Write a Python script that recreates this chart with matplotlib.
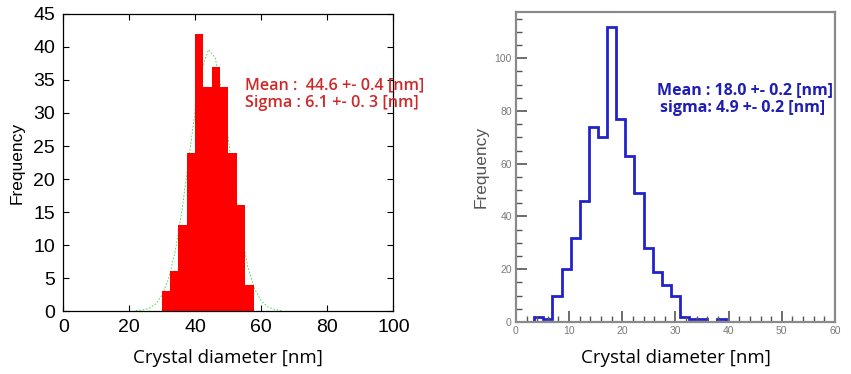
import numpy as np
import matplotlib
matplotlib.use("Agg")
import matplotlib.pyplot as plt
from matplotlib.ticker import MultipleLocator

# left histogram (red, filled)
left_edges = [29.8, 32.3, 34.8, 37.4, 39.9, 42.4, 45.0, 47.5, 50.0, 52.6, 55.1, 57.7]
left_counts = [3, 6, 13, 24, 42, 34, 37, 34, 24, 16, 4]
# gaussian fit curve
fit_x = [22, 24, 26, 28, 30, 32, 34, 36, 38, 40, 42, 44, 46, 48, 50, 52, 54, 56, 58, 60, 62, 64, 66]
fit_y = [0.05, 0.15, 0.42, 1.07, 2.45, 5.03, 9.28, 15.4, 22.9, 30.6, 36.7, 39.6, 38.4,
         33.4, 26.1, 18.3, 11.5, 6.5, 3.3, 1.5, 0.62, 0.23, 0.08]
left_text = ["Mean :  44.6 +- 0.4 [nm]", "Sigma : 6.1 +- 0. 3 [nm]"]

# right histogram (blue, step)
right_edges = np.linspace(0, 60, 36)
right_counts = [0, 0, 2, 1, 10, 20, 32, 46, 74, 70, 112, 77, 63, 49, 28, 19, 14, 10,
                2, 1, 1, 0, 1, 0, 0, 0, 0, 0, 0, 0, 0, 0, 0, 0, 0]
right_text = ["Mean : 18.0 +- 0.2 [nm]", "sigma: 4.9 +- 0.2 [nm]"]

tick_font = ["Liberation Sans", "DejaVu Sans"]
label_font = ["Open Sans", "DejaVu Sans"]

fig = plt.figure(figsize=(8.51, 3.74), dpi=100)

# ---- left panel ----
ax1 = fig.add_axes([0.0744, 0.1684, 0.3878, 0.7942])
ax1.plot(fit_x, fit_y, color="#33dd33", lw=0.6, ls=(0, (2, 2)), zorder=1)
widths = np.diff(left_edges)
ax1.bar(left_edges[:-1], left_counts, width=widths, align="edge", color="#ff0000",
        edgecolor="none", zorder=2)
ax1.set_xlim(0, 100)
ax1.set_ylim(0, 45)
ax1.xaxis.set_major_locator(MultipleLocator(20))
ax1.yaxis.set_major_locator(MultipleLocator(5))
ax1.tick_params(direction="in", top=True, right=True, length=4, width=0.8, labelsize=14,
                pad=6)
for lab in ax1.get_xticklabels() + ax1.get_yticklabels():
    lab.set_family(tick_font)
for sp in ax1.spines.values():
    sp.set_linewidth(0.9)
ax1.set_ylabel("Frequency", family=tick_font, fontsize=12.5, labelpad=6)
ax1.set_xlabel("Crystal diameter [nm]", family=label_font, fontsize=13.5, labelpad=9)
ax1.text(245 / 851, 1 - 85 / 374, left_text[0], transform=fig.transFigure, color="#d02828",
         family=label_font, fontsize=11.6, fontweight="semibold", va="center")
ax1.text(245 / 851, 1 - 103 / 374, left_text[1], transform=fig.transFigure, color="#d02828",
         family=label_font, fontsize=11.6, fontweight="semibold", va="center")

# ---- right panel ----
ax2 = fig.add_axes([0.6063, 0.139, 0.3749, 0.8289])
ax2.stairs(right_counts, right_edges, color="#2222cc", lw=2)
ax2.set_xlim(0, 60)
ax2.set_ylim(0, 117.5)
ax2.xaxis.set_major_locator(MultipleLocator(10))
ax2.xaxis.set_minor_locator(MultipleLocator(2))
ax2.yaxis.set_major_locator(MultipleLocator(20))
ax2.yaxis.set_minor_locator(MultipleLocator(5))
gray = "#7a7a7a"
ax2.tick_params(which="major", direction="in", length=8, width=1.2, color="#555555",
                labelsize=7.5, labelcolor=gray, pad=3)
ax2.tick_params(which="minor", direction="in", length=4, width=1.0, color="#555555")
for lab in ax2.get_xticklabels() + ax2.get_yticklabels():
    lab.set_family(tick_font)
for sp in ax2.spines.values():
    sp.set_linewidth(1.6)
    sp.set_color("#8a8a8a")
ax2.set_ylabel("Frequency", family=tick_font, fontsize=12.5, color="#555555", labelpad=4)
ax2.set_xlabel("Crystal diameter [nm]", family=label_font, fontsize=13.5, labelpad=9)
ax2.text(657 / 851, 1 - 90 / 374, right_text[0], transform=fig.transFigure, color="#1e1eb4",
         family=label_font, fontsize=11.5, fontweight="bold", va="center")
ax2.text(660 / 851, 1 - 108 / 374, right_text[1], transform=fig.transFigure, color="#1e1eb4",
         family=label_font, fontsize=11.5, fontweight="bold", va="center")

fig.savefig("out.png", dpi=100)
